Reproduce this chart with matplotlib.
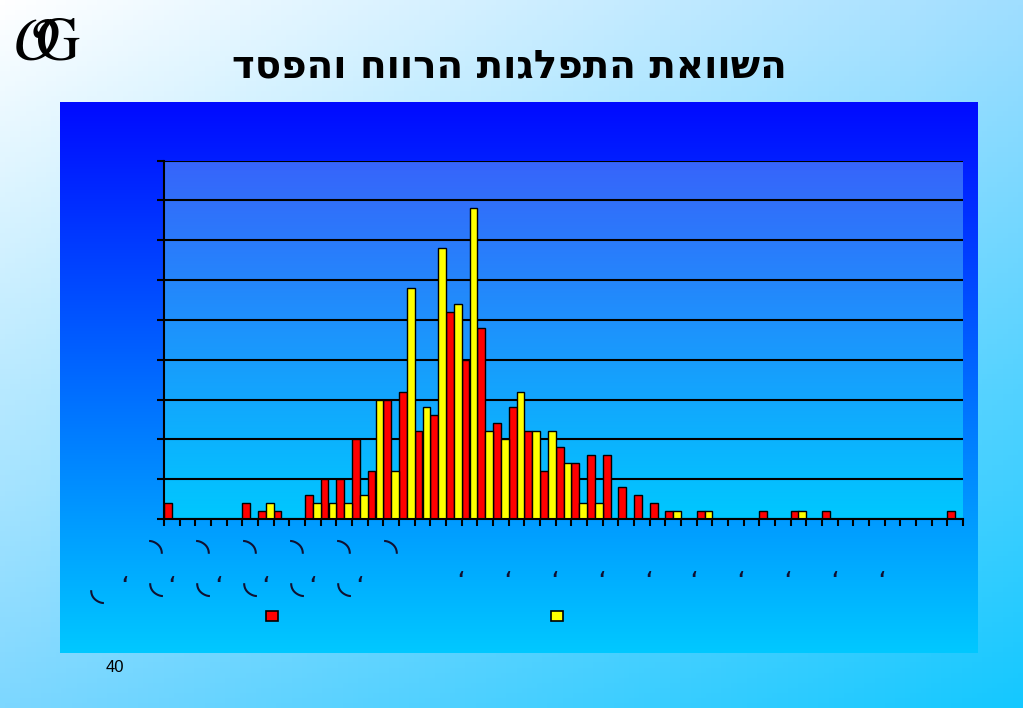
import numpy as np
import matplotlib
matplotlib.use("Agg")
import matplotlib.pyplot as plt
from matplotlib.patches import Patch
import matplotlib.transforms as mtransforms

plt.rcParams["mathtext.fontset"] = "stix"

# -------------------------------
# Data
# -------------------------------
red_vals = [2, 0, 0, 0, 0, 2, 1, 1, 0, 3, 5, 5, 10, 6, 15, 16, 11, 13, 26, 20,
            24, 12, 14, 11, 6, 9, 7, 8, 8, 4, 3, 2, 1, 0, 1, 0, 0, 0, 1, 0,
            1, 0, 1, 0, 0, 0, 0, 0, 0, 0, 1]
yellow_vals = [0, 0, 0, 0, 0, 0, 2, 0, 0, 2, 2, 2, 3, 15, 6, 29, 14, 34, 27, 39,
               11, 10, 16, 11, 11, 7, 2, 2, 0, 0, 0, 0, 1, 0, 1, 0, 0, 0, 0, 0,
               1, 0, 0, 0, 0, 0, 0, 0, 0, 0, 0]
y_ticks = [0, 5, 10, 15, 20, 25, 30, 35, 40, 45]
title = "השוואת התפלגות הרווח והפסד"
page_no = "40"

# garbled category labels as they appear in the picture
arc_top_pos = [-1, 2, 5, 8, 11, 14]
arc_low_pos = [-1, 2, 5, 8, 11]
mark_pos_a = [-3, 0, 3, 6, 9, 12]
mark_pos_b = [18.4, 21.4, 24.4, 27.4, 30.4, 33.3, 36.3, 39.3, 42.3, 45.3]

W, H = 1023, 708
fig = plt.figure(figsize=(W / 100, H / 100), dpi=100)

# -------------------------------
# page background (diagonal gradient)
# -------------------------------
bg = fig.add_axes([0, 0, 1, 1], zorder=-10)
u = np.linspace(0, 1, 200)[None, :, None]
v = np.linspace(0, 1, 140)[:, None, None]
tl = np.array([255, 255, 255]) / 255
tr = np.array([160, 222, 255]) / 255
bl = np.array([125, 215, 255]) / 255
br = np.array([20, 200, 255]) / 255
img = (1 - v) * ((1 - u) * tl + u * tr) + v * ((1 - u) * bl + u * br)
bg.imshow(img, aspect="auto", extent=[0, 1, 0, 1], origin="upper")
bg.axis("off")

# chart area (vertical gradient)
ca = fig.add_axes([60 / W, 1 - 653 / H, 918 / W, 551 / H], zorder=-5)
g = np.linspace(0, 1, 256)[:, None, None]
top_c = np.array([0, 10, 255]) / 255
bot_c = np.array([0, 200, 255]) / 255
ca.imshow((1 - g) * top_c + g * bot_c, aspect="auto", extent=[0, 1, 0, 1], origin="upper")
ca.axis("off")

# -------------------------------
# plot area
# -------------------------------
ax = fig.add_axes([164 / W, 1 - 519 / H, 799 / W, 358.5 / H])
ax.patch.set_visible(False)
pg = np.linspace(0, 1, 256)[:, None, None]
pa_top = np.array([55, 100, 250]) / 255
pa_bot = np.array([0, 200, 255]) / 255
ax.imshow((1 - pg) * pa_top + pg * pa_bot, aspect="auto", extent=[0, 1, 0, 1],
          origin="upper", transform=ax.transAxes, zorder=0)

x = np.arange(len(red_vals))
bw = 0.5
bars_r = ax.bar(x - bw / 2, red_vals, bw, color="#ff0000", edgecolor="black", linewidth=1, zorder=3)
bars_y = ax.bar(x + bw / 2, yellow_vals, bw, color="#ffff00", edgecolor="black", linewidth=1, zorder=3)

ax.set_xlim(-0.5, len(red_vals) - 0.5)
ax.set_ylim(0, 45)
ax.set_yticks(y_ticks)
ax.set_yticklabels([])
ax.set_xticks(np.arange(-0.5, len(red_vals), 1))
ax.set_xticklabels([])
ax.tick_params(axis="both", direction="out", length=5, width=1.5, color="black")
ax.yaxis.grid(True, color="black", linewidth=1.5, zorder=1)
ax.set_axisbelow(True)
for s in ["top", "right"]:
    ax.spines[s].set_visible(False)
for s in ["left", "bottom"]:
    ax.spines[s].set_linewidth(1.5)
    ax.spines[s].set_zorder(4)

# garbled x labels
trans = mtransforms.blended_transform_factory(ax.transData, fig.transFigure)
lab_kw = dict(transform=trans, ha="center", va="center", color="#101030", fontweight="bold")
for p in arc_top_pos:
    fig.text(p, 1 - 552 / H, "◝", fontsize=26, **lab_kw)
for p in arc_low_pos:
    fig.text(p, 1 - 583 / H, "◟", fontsize=26, **lab_kw)
fig.text(-4.8, 1 - 590 / H, "◟", fontsize=26, **lab_kw)
for p in mark_pos_a:
    fig.text(p, 1 - 584 / H, "ʻ", fontsize=12, **lab_kw)
for p in mark_pos_b:
    fig.text(p, 1 - 579 / H, "ʻ", fontsize=12, **lab_kw)

# legend (labels do not render in the picture)
handles = [Patch(facecolor="#ff0000", edgecolor="black", linewidth=1.2),
           Patch(facecolor="#ffff00", edgecolor="black", linewidth=1.2)]
fig.legend(handles, ["", ""], ncol=2, loc="center",
           bbox_to_anchor=((272 + 557) / 2 / W, 1 - 617 / H),
           frameon=False, handlelength=0.9, handleheight=0.75,
           handletextpad=0, columnspacing=19.6, fontsize=10)

# -------------------------------
# titles and decoration
# -------------------------------
fig.text(509 / W, 1 - 67 / H, title[::-1], fontsize=28, fontweight="bold",
         ha="center", va="center", family=["DejaVu Sans"])
fig.text(115 / W, 1 - 668 / H, page_no, fontsize=12, ha="center", va="center",
         family=["Liberation Sans", "DejaVu Sans"])
fig.text(47 / W, 1 - 43 / H, r"$\mathcal{O}\!\!\!\mathrm{G}$", fontsize=44,
         ha="center", va="center")

fig.savefig("out.png", dpi=100)
